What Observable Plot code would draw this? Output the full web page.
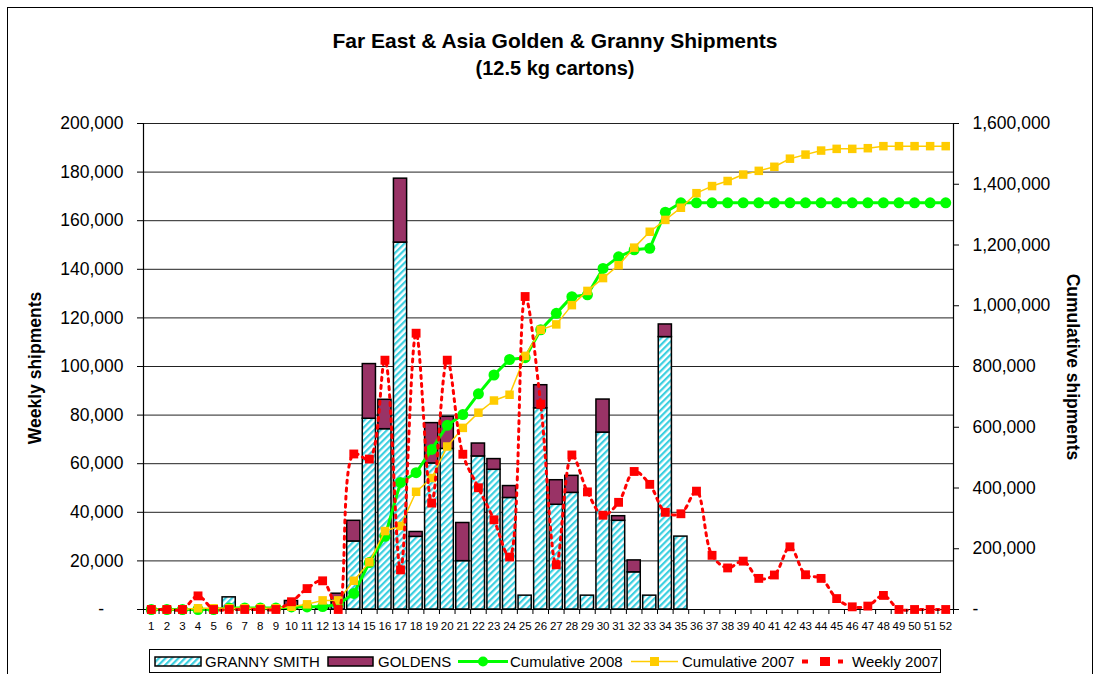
<!DOCTYPE html>
<html><head><meta charset="utf-8">
<script src="https://cdn.jsdelivr.net/npm/d3@7"></script>
<script src="https://cdn.jsdelivr.net/npm/@observablehq/plot@0.6"></script>
<style>
body{margin:0;background:#fff;font-family:"Liberation Sans",Arial,sans-serif;}
#wrap{position:relative;width:1096px;height:674px;overflow:hidden;background:#fff;}
#border{position:absolute;left:7px;top:7px;width:1086px;height:720px;border:1.5px solid #000;box-sizing:border-box;}
.title{position:absolute;left:0;width:1110px;text-align:center;font-weight:bold;color:#000;line-height:24px;}
.ytitle{position:absolute;font-weight:bold;font-size:17.5px;white-space:nowrap;color:#000;}
#chart{position:absolute;left:0;top:100px;}
#legend{position:absolute;left:0;top:640px;}
</style></head><body>
<svg width="0" height="0" style="position:absolute">
  <defs>
    <pattern id="hatch" patternUnits="userSpaceOnUse" width="4.6" height="4.6" patternTransform="rotate(45)">
      <rect x="0" y="0" width="4.6" height="4.6" fill="#ffffff"></rect>
      <rect x="0" y="0" width="2.2" height="4.6" fill="#3CCFE0"></rect>
    </pattern>
  </defs>
</svg>
<div id="wrap">
  <div id="border"></div>
  <div class="title" style="top:29px;font-size:21px;">Far East &amp; Asia Golden &amp; Granny Shipments</div>
  <div class="title" style="top:56px;font-size:20px;">(12.5 kg cartons)</div>
  <div id="chart"></div>
  <div class="ytitle" style="left:35px;top:368px;transform:translate(-50%,-50%) rotate(-90deg);">Weekly shipments</div>
  <div class="ytitle" style="left:1072px;top:367px;transform:translate(-50%,-50%) rotate(90deg);">Cumulative shipments</div>
  <svg id="legend" width="1096" height="34" font-family="Liberation Sans, Arial, sans-serif" font-size="15">
    <rect x="149.5" y="9.5" width="791" height="23" fill="#fff" stroke="#000" stroke-width="1"></rect>
    <rect x="155" y="17" width="46" height="9" fill="url(#hatch)" stroke="#000" stroke-width="1.5"></rect>
    <text x="205" y="26.7">GRANNY SMITH</text>
    <rect x="328" y="17" width="45" height="9" fill="#993366" stroke="#000" stroke-width="1.5"></rect>
    <text x="378" y="26.7">GOLDENS</text>
    <line x1="458" x2="508" y1="21.5" y2="21.5" stroke="#00FF00" stroke-width="3"></line>
    <circle cx="483" cy="21.5" r="5" fill="#00FF00"></circle>
    <text x="510" y="26.7">Cumulative 2008</text>
    <line x1="631" x2="678" y1="21.5" y2="21.5" stroke="#FFCC00" stroke-width="1.5"></line>
    <rect x="650" y="17" width="9" height="9" fill="#FFCC00"></rect>
    <text x="682" y="26.7">Cumulative 2007</text>
    <rect x="802" y="19.5" width="6" height="4" fill="#FF0000"></rect>
    <rect x="820" y="17" width="10" height="9" fill="#FF0000"></rect>
    <rect x="838" y="19.5" width="5" height="4" fill="#FF0000"></rect>
    <text x="852" y="26.7">Weekly 2007</text>
  </svg>
</div>
<script>
const weeks = [1,2,3,4,5,6,7,8,9,10,11,12,13,14,15,16,17,18,19,20,21,22,23,24,25,26,27,28,29,30,31,32,33,34,35,36,37,38,39,40,41,42,43,44,45,46,47,48,49,50,51,52];
const grannySmith = [0,0,0,0,0,5000,0,0,0,1000,0,1000,3000,28000,78500,74200,151000,29900,60100,66100,19900,63000,57500,45900,5700,82800,43100,48000,5700,72800,36500,15300,5700,112100,30000,0,0,0,0,0,0,0,0,0,0,0,0,0,0,0,0,0];
const goldens = [0,0,0,0,0,0,0,0,0,2500,0,0,3500,8500,22500,12100,26300,2000,16600,13200,15700,5300,4400,4900,0,9500,10100,7000,0,13600,1900,4900,0,5200,0,0,0,0,0,0,0,0,0,0,0,0,0,0,0,0,0,0];
const cumulative2008 = [0,0,0,0,0,5000,5000,5000,5000,8500,8500,9500,16500,53000,154500,240800,418400,450300,527000,606300,641600,710000,772000,823000,829000,921000,975000,1030000,1036000,1123000,1161000,1184000,1189000,1308000,1339000,1339000,1339000,1339000,1339000,1339000,1339000,1339000,1339000,1339000,1339000,1339000,1339000,1339000,1339000,1339000,1339000,1339000];
const cumulative2007 = [0,0,0,4000,4000,4000,4000,4000,4000,9000,17000,30000,30000,94600,155900,258300,275000,387500,433000,536600,597900,648000,688000,707000,835000,920800,938600,1002000,1048800,1091100,1133400,1191300,1243600,1282600,1322700,1370600,1394000,1410700,1431900,1444100,1457500,1484200,1497600,1510900,1516500,1516500,1518700,1525400,1525400,1525400,1525400,1525400];
const weekly2007 = [0,0,0,5600,0,0,0,0,0,3200,8600,11800,0,64000,61900,102600,16300,113700,43800,102600,63900,50100,36900,21600,128800,84500,18400,63600,48400,38800,44100,56800,51500,40000,39400,48700,22300,17100,19900,12800,14200,25800,14300,12800,4500,1100,1400,5800,0,0,0,0];
const leftTicks = [0,20000,40000,60000,80000,100000,120000,140000,160000,180000,200000];
const rightTicks = [0,200000,400000,600000,800000,1000000,1200000,1400000,1600000];

const ratio = 8; // right axis max 1,600,000 vs left 200,000
const rows = weeks.map((w,i)=>({week:w, granny:grannySmith[i], golden:goldens[i], c08:cumulative2008[i]/ratio, c07:cumulative2007[i]/ratio, w07:weekly2007[i]}));
const boundaries = [0].concat(weeks).map(w=>w+0.5);
const fmt = d3.format(",");

const chart = Plot.plot({
  width:1096, height:545,
  marginLeft:143, marginRight:143, marginTop:23, marginBottom:36,
  style:{fontFamily:"'Liberation Sans', Arial, sans-serif", background:"transparent", overflow:"visible", color:"#000"},
  x:{type:"linear", domain:[0.5,52.5]},
  y:{type:"linear", domain:[0,200000]},
  marks:[
    Plot.ruleY(leftTicks.filter(d=>d>0), {stroke:"#222", strokeWidth:1}),
    Plot.rect(rows.filter(d=>d.granny>0), {x1:d=>d.week-0.5, x2:d=>d.week+0.5, y1:0, y2:"granny", insetLeft:1.2, insetRight:1.2, fill:"url(#hatch)", stroke:"#000", strokeWidth:1.5}),
    Plot.rect(rows.filter(d=>d.golden>0), {x1:d=>d.week-0.5, x2:d=>d.week+0.5, y1:"granny", y2:d=>d.granny+d.golden, insetLeft:1.2, insetRight:1.2, fill:"#993366", stroke:"#000", strokeWidth:1.5}),
    Plot.ruleX([0.5,52.5], {stroke:"#000", strokeWidth:1.2}),
    Plot.ruleY([0], {stroke:"#000", strokeWidth:1.2}),
    Plot.line(rows, {x:"week", y:"c08", stroke:"#00FF00", strokeWidth:3}),
    Plot.dot(rows, {x:"week", y:"c08", r:5.5, fill:"#00FF00", stroke:"none"}),
    Plot.line(rows, {x:"week", y:"c07", stroke:"#FFCC00", strokeWidth:1.5}),
    Plot.dot(rows, {x:"week", y:"c07", symbol:"square", r:4.8, fill:"#FFCC00", stroke:"none"}),
    Plot.line(rows, {x:"week", y:"w07", stroke:"#FF0000", strokeWidth:3, strokeDasharray:"3,5", curve:"catmull-rom"}),
    Plot.dot(rows, {x:"week", y:"w07", symbol:"square", r:5, fill:"#FF0000", stroke:"none"}),
    Plot.axisY(leftTicks, {anchor:"left", tickSize:6, tickPadding:14, fontSize:17.5, label:null, tickFormat:d=>d===0?"-\u2007\u2007":fmt(d)}),
    Plot.axisY(rightTicks.map(d=>d/ratio), {anchor:"right", tickSize:5, tickPadding:14, fontSize:17.5, label:null, tickFormat:d=>d===0?"-":fmt(d*ratio)}),
    Plot.axisX(boundaries, {anchor:"bottom", tickSize:5, tickFormat:()=>"", label:null}),
    Plot.axisX(weeks, {anchor:"bottom", tickSize:0, tickPadding:12, fontSize:11.5, label:null, tickFormat:d=>String(d)})
  ]
});
document.getElementById("chart").appendChild(chart);
</script>
</body></html>
